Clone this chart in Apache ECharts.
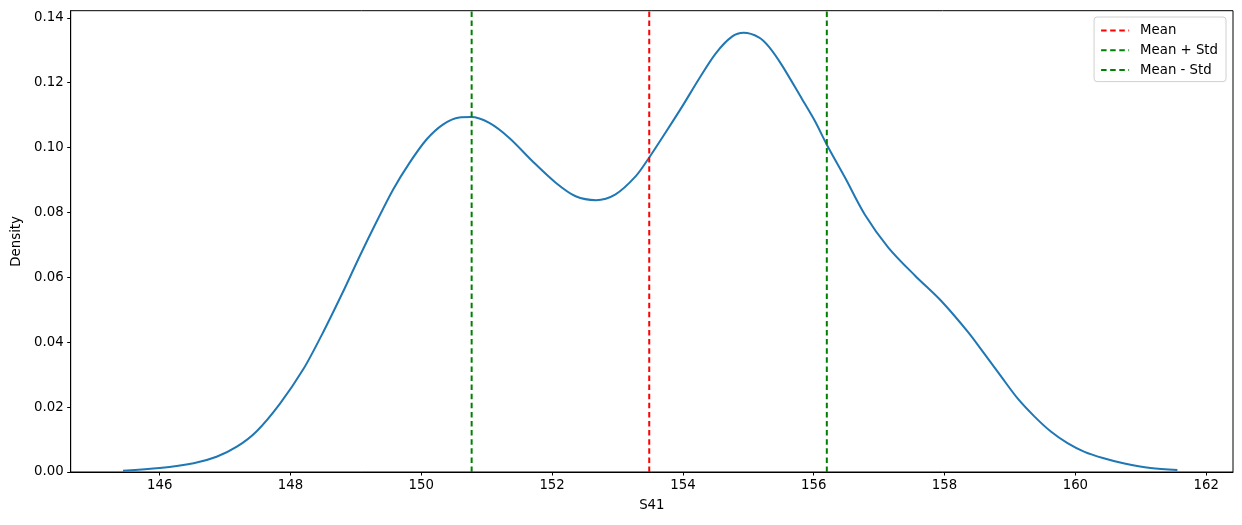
<!DOCTYPE html>
<html>
<head>
<meta charset="utf-8">
<script src="https://cdn.jsdelivr.net/npm/echarts@6/dist/echarts.min.js"></script>
<style>
html,body{margin:0;padding:0;background:#fff;}
#chart{width:1242px;height:525px;}
</style>
</head>
<body>
<div id="chart"></div>
<script>
// KDE curve of S41
const kdeX = [145.44, 146.0, 146.52, 146.87, 147.18, 147.48, 147.84, 148.2, 148.5, 148.8, 149.06, 149.31, 149.57, 149.82, 150.08, 150.33, 150.58, 150.76, 151.04, 151.35, 151.7, 152.06, 152.36, 152.67, 152.97, 153.28, 153.48, 153.73, 153.99, 154.24, 154.5, 154.75, 154.93, 155.16, 155.31, 155.51, 155.82, 156.02, 156.2, 156.48, 156.78, 157.14, 157.55, 157.95, 158.36, 158.61, 158.87, 159.12, 159.38, 159.63, 159.88, 160.14, 160.42, 160.75, 161.15, 161.56];
const kdeY = [0.0004, 0.0012, 0.0027, 0.0047, 0.0078, 0.0125, 0.0211, 0.0318, 0.0431, 0.0554, 0.0666, 0.0769, 0.0871, 0.0953, 0.1025, 0.1071, 0.1093, 0.1094, 0.1076, 0.1029, 0.0958, 0.0891, 0.085, 0.0838, 0.0856, 0.0912, 0.0968, 0.1045, 0.1127, 0.121, 0.129, 0.1342, 0.1354, 0.134, 0.1312, 0.1255, 0.115, 0.1081, 0.1009, 0.0907, 0.0794, 0.0692, 0.0605, 0.0527, 0.0431, 0.0364, 0.0293, 0.0226, 0.017, 0.0124, 0.0089, 0.0062, 0.0043, 0.0026, 0.0012, 0.0006];
const meanValue = 153.485;
const stdValue = 2.715;
const xTicks = [146, 148, 150, 152, 154, 156, 158, 160, 162];
const yTicks = [0, 0.02, 0.04, 0.06, 0.08, 0.10, 0.12, 0.14];
const xRange = [144.64, 162.41];
const yRange = [0, 0.1422];

const FONT = 'DejaVu Sans';
const chart = echarts.init(document.getElementById('chart'), null, {renderer: 'canvas'});
const curve = kdeX.map((x, i) => [x, kdeY[i]]);
const vline = v => [[v, yRange[0]], [v, yRange[1]]];
const dash = [5.5, 3.6];

chart.setOption({
  animation: false,
  backgroundColor: '#fff',
  textStyle: {fontFamily: FONT},
  grid: {left: 70.7, right: 9, top: 10.7, bottom: 53, show: true, borderColor: '#000', borderWidth: 1, backgroundColor: 'transparent'},
  legend: {
    orient: 'vertical',
    right: 16, top: 17,
    padding: [7, 8, 5, 6],
    itemWidth: 28, itemHeight: 14, itemGap: 6.8,
    backgroundColor: 'rgba(255,255,255,0.8)',
    borderColor: '#d0d0d0', borderWidth: 1, borderRadius: 3,
    itemStyle: {opacity: 0},
    textStyle: {fontFamily: FONT, fontSize: 13.3, color: '#000', padding: [0, 0, 0, 6]},
    data: ['Mean', 'Mean + Std', 'Mean - Std']
  },
  xAxis: {
    type: 'value', min: xRange[0], max: xRange[1],
    name: 'S41', nameLocation: 'middle', nameGap: 27,
    nameTextStyle: {fontFamily: FONT, fontSize: 13.3, color: '#000'},
    axisLine: {show: true, onZero: false, lineStyle: {color: '#000', width: 1}},
    axisTick: {show: true, length: 3.5, lineStyle: {color: '#000'}, customValues: xTicks},
    axisLabel: {color: '#000', fontSize: 13.3, fontFamily: FONT, margin: 7, customValues: xTicks, formatter: v => String(v)},
    splitLine: {show: false}
  },
  yAxis: {
    type: 'value', min: yRange[0], max: yRange[1],
    name: 'Density', nameLocation: 'middle', nameGap: 47,
    nameTextStyle: {fontFamily: FONT, fontSize: 13.3, color: '#000'},
    axisLine: {show: true, lineStyle: {color: '#000', width: 1}},
    axisTick: {show: true, length: 3.5, lineStyle: {color: '#000'}, customValues: yTicks},
    axisLabel: {color: '#000', fontSize: 13.3, fontFamily: FONT, margin: 7, customValues: yTicks, formatter: v => v.toFixed(2)},
    splitLine: {show: false}
  },
  series: [
    {name: 'KDE', type: 'line', data: curve, smooth: 0.3, showSymbol: false, symbol: 'none',
     lineStyle: {color: '#1f77b4', width: 2}, itemStyle: {color: '#1f77b4'}, z: 3},
    {name: 'Mean', type: 'line', data: vline(meanValue), showSymbol: false, symbol: 'none',
     lineStyle: {color: '#ff0000', width: 2, type: dash}, itemStyle: {color: '#ff0000'}, z: 4},
    {name: 'Mean + Std', type: 'line', data: vline(meanValue + stdValue), showSymbol: false, symbol: 'none',
     lineStyle: {color: '#008000', width: 2, type: dash}, itemStyle: {color: '#008000'}, z: 4},
    {name: 'Mean - Std', type: 'line', data: vline(meanValue - stdValue), showSymbol: false, symbol: 'none',
     lineStyle: {color: '#008000', width: 2, type: dash}, itemStyle: {color: '#008000'}, z: 4}
  ]
});
</script>
</body>
</html>
